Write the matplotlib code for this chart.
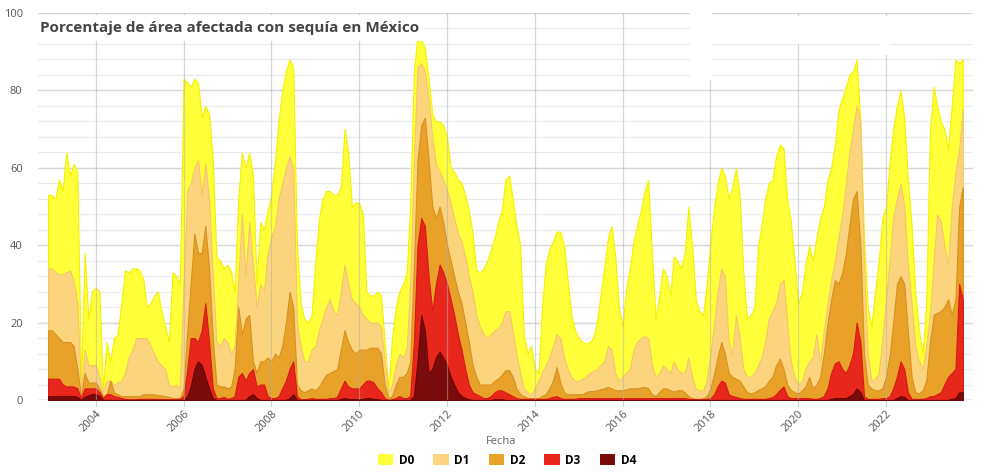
import matplotlib
matplotlib.use("Agg")
import matplotlib.pyplot as plt
from matplotlib.patches import Patch, Rectangle
import pandas as pd

# Monthly series, Dec 2002 .. Oct 2023 (percentage of area)
start_month = "2002-12-01"

d0 = [53,
      53, 52, 57, 54, 64, 58, 61, 59, 5, 38, 21, 28,
      29, 28, 3, 15, 10, 16, 17, 25, 33.5, 33, 34, 34,
      33.5, 31, 24, 25, 27, 28, 23, 19, 15, 33, 32, 30,
      83, 82, 81, 83, 82, 73, 76, 74, 62, 37, 36, 34,
      35, 33, 28, 52, 64, 60, 64, 58, 30, 46, 44, 49,
      53, 62, 72, 80, 85, 88, 86, 40, 25, 21, 20, 22,
      36, 47, 52, 54, 54, 53, 53, 55, 70, 64, 50, 51,
      51, 48, 28, 27, 27, 28, 27, 15, 3, 16, 24, 28,
      30, 33, 50, 85, 94, 93, 91, 83, 74, 72, 72, 71,
      68, 60, 59, 57, 56, 53, 49, 43, 33.5, 33, 34, 36,
      39, 42, 46, 49, 57, 58, 52, 45, 40, 17, 12, 14,
      8, 7, 24, 35, 39, 41, 43.5, 43.5, 40, 31, 22, 18,
      16, 15, 14.6, 15, 16, 20, 27, 34, 42, 45, 37, 24,
      19, 29, 34, 41, 45, 49, 54, 56.8, 38, 21, 27, 34,
      32, 27, 37, 36, 34, 38, 50, 40, 26, 23, 22, 30,
      41, 50, 56, 60, 58, 52, 55, 60, 53, 33, 21, 22,
      24, 40, 45, 52, 56, 57, 63, 66, 65, 52, 46, 36,
      25, 28, 35, 40, 36, 42, 47, 50, 57, 60, 66, 75,
      78, 81, 84, 85, 88, 72, 42, 24, 19, 28, 36, 47,
      50, 62, 70, 76, 80, 73, 57, 45, 28, 18, 12, 25,
      70, 81, 76, 72, 70, 65, 76, 88, 87, 88]

d1 = [34,
      34, 33, 32.5, 32.5, 33, 33.5, 31, 25, 2, 13, 9, 9,
      9, 6, 2, 5, 5, 4, 4.5, 5, 7, 11, 13, 16,
      16, 16, 16, 14, 12, 10, 9, 8, 4, 3.5, 4, 3,
      30, 54, 56, 60, 62, 53, 61, 52, 32, 15, 14, 16,
      15, 12, 14, 30, 48, 32, 46, 35, 24, 30, 28, 38,
      42, 45, 52, 56, 60, 63, 60, 20, 14, 10, 10, 13,
      14, 18, 21, 24, 26, 23, 22, 28, 35, 30, 26, 25,
      24, 22, 21, 20, 20, 20, 19, 10, 2, 4, 9, 12,
      11, 13.5, 30, 62, 86, 87, 85, 78, 68, 61, 59, 57,
      54, 51, 47, 43, 41, 37, 32, 28, 22, 19, 17, 16,
      17, 18, 18.5, 20, 23, 23, 18, 12, 7, 3, 2, 1.5,
      3, 5, 7, 9, 11, 14, 17, 16, 11, 8, 6, 5,
      5, 5.5, 6, 7, 7.5, 8, 9, 10, 14, 13, 7, 5,
      6, 7, 8, 13, 15, 16, 16.5, 16, 9, 6, 7, 9,
      8, 7, 10, 8, 7, 7, 11, 6, 3, 2.5, 2.5, 5,
      12, 20, 28, 34, 32, 15, 12, 22, 16, 8, 6, 6,
      7, 9, 11, 15, 21, 23, 25, 30, 31, 20, 10, 6,
      4, 5, 8, 10, 11, 17, 10, 18, 25, 31, 36, 42,
      48, 56, 64, 70, 76, 72, 35, 12, 5, 5.5, 7, 16,
      26, 37, 47, 52, 56, 50, 35, 25, 14, 10, 8, 14,
      22, 36, 48, 46, 40, 35, 50, 59, 65, 75]

d2 = [18,
      18, 17, 16, 15, 15, 15, 14, 8, 1, 7, 4.5, 4.5,
      4.5, 3, 1, 1.5, 5, 2, 1.5, 1, 1, 1, 1, 1,
      1, 1.5, 1.5, 1.5, 1.5, 1.3, 1.2, 1, 0.8, 0.5, 0.5, 0.5,
      3, 18, 30, 43, 38, 38, 45, 34, 16, 4, 3.5, 3.5,
      3, 3.5, 8, 24, 17, 21, 22, 10, 7, 10, 10, 11,
      10, 12, 11, 14, 20, 28, 24, 4, 2.5, 2, 2.5, 3,
      2.5, 3.5, 5, 6.5, 7, 7.5, 8, 13, 18, 15, 13, 12,
      13, 13, 13, 13.5, 13.5, 13.5, 12, 4, 0.5, 1, 4, 6,
      6, 7, 10, 35, 62, 71, 73, 62, 50, 47, 50, 46,
      40, 36, 32, 28, 25, 20, 15, 9, 6, 4, 4, 4,
      4, 5, 5.5, 6.5, 7.7, 7.7, 6, 3, 1.5, 1, 0.5, 0.5,
      0.5, 0.5, 1, 1.5, 3, 5, 8.5, 4.5, 2, 1.5, 1.5, 1.5,
      1.5, 1.5, 2, 2.3, 2.3, 2.5, 2.8, 3, 3.4, 3, 2.5, 2.5,
      2.5, 2.8, 3, 3, 3, 3.2, 3.4, 3, 1.5, 1, 2, 3,
      3, 2.5, 2.2, 2.5, 2.6, 2, 1, 0.5, 0.3, 0.3, 0.5, 1,
      3, 7, 11, 15, 12, 7, 6, 5.5, 5, 3.5, 2, 1.7,
      2, 2.6, 3, 3.5, 5, 6, 9, 10.7, 8, 4, 2.6, 2,
      1.7, 2.5, 3.5, 6, 3, 4, 6, 12, 20, 26, 31, 30,
      33, 38, 45, 52, 54, 40, 12, 4, 3, 2.5, 2.5, 3,
      6, 12, 20, 30, 32, 30, 18, 6, 2, 1.7, 2.5, 5,
      15, 22, 22.5, 23, 24, 26, 22, 26, 50, 55]

d3 = [5.5,
      5.5, 5.5, 5.5, 4, 3.5, 3.5, 3.5, 3, 0.5, 3, 3, 3,
      3, 2, 0.5, 1.5, 1.5, 1, 0.8, 0.5, 0.3, 0.2, 0.2, 0.2,
      0.3, 0.3, 0.3, 0.3, 0.3, 0.3, 0.2, 0.2, 0.2, 0.2, 0.2, 0.3,
      1, 8, 16, 16, 15, 18, 25, 15, 3, 0.5, 0.5, 0.8,
      0.3, 0.5, 1, 6, 7, 5, 7, 8, 3.5, 4, 4, 1,
      0.5, 0.5, 1, 3, 5, 8, 10, 1, 0.2, 0.2, 0.3, 0.5,
      0.3, 0.3, 0.3, 0.3, 0.5, 0.5, 0.8, 3, 5, 3.5, 3, 3,
      3, 4, 5, 5, 4.5, 3, 2, 0.5, 0, 0.2, 0.5, 1,
      0.5, 0.5, 1, 15, 40, 47, 45, 32, 23, 30, 35, 33,
      30, 26, 22, 17, 13, 8, 4, 2, 1.5, 1, 0.5, 0.5,
      1, 2, 2.5, 2.5, 2, 1.5, 1, 0.5, 0.3, 0.3, 0.3, 0.3,
      0.3, 0.3, 0.3, 0.3, 0.5, 0.8, 1, 0.5, 0.3, 0.3, 0.3, 0.3,
      0.5, 0.5, 0.5, 0.5, 0.5, 0.5, 0.5, 0.5, 0.5, 0.5, 0.5, 0.5,
      0.5, 0.5, 0.5, 0.5, 0.5, 0.5, 0.5, 0.5, 0.5, 0.5, 0.5, 0.5,
      0.5, 0.5, 0.5, 0.5, 0.5, 0.5, 0.3, 0.2, 0.2, 0.2, 0.2, 0.3,
      0.5, 1.5, 3.5, 5, 4.5, 1.5, 1, 0.8, 0.5, 0.3, 0.3, 0.3,
      0.3, 0.3, 0.3, 0.3, 0.5, 0.8, 1.5, 2.6, 3.5, 1, 0.5, 0.5,
      0.5, 0.5, 0.5, 0.5, 0.3, 0.3, 0.5, 1, 3, 7, 9.5, 10,
      8, 7, 9, 12, 20, 15, 1, 0.3, 0.3, 0.3, 0.3, 0.5,
      0.5, 1, 3, 6, 10, 8, 2, 0.3, 0.3, 0.3, 0.3, 0.5,
      1, 1, 1.5, 2, 4, 6, 7, 8, 30, 26]

d4 = [1,
      1, 1, 1, 1, 1, 1, 1, 0.8, 0, 0.8, 1.2, 1.5,
      1.5, 1, 0, 0, 0, 0, 0, 0, 0, 0, 0, 0,
      0, 0, 0, 0, 0, 0, 0, 0, 0, 0, 0, 0,
      0, 1, 3.5, 8, 10, 9, 6, 3, 0.5, 0, 0, 0,
      0, 0, 0, 0, 0, 0, 1, 1.5, 0.5, 0, 0, 0,
      0, 0, 0, 0, 0, 0.5, 1.5, 0, 0, 0, 0, 0,
      0, 0, 0, 0, 0, 0, 0, 0.3, 0.5, 0.3, 0.2, 0.2,
      0.2, 0.3, 0.5, 0.5, 0.3, 0.2, 0, 0, 0, 0, 0, 0,
      0, 0, 0, 1, 10, 22, 18, 7, 8, 11, 12.5, 11,
      9, 6, 4, 2, 1, 0.5, 0.2, 0, 0, 0, 0, 0,
      0, 0.2, 0.2, 0.2, 0, 0, 0, 0, 0, 0, 0, 0,
      0, 0, 0, 0, 0, 0, 0, 0, 0, 0, 0, 0,
      0, 0, 0, 0, 0, 0, 0, 0, 0, 0, 0, 0,
      0, 0, 0, 0, 0, 0, 0, 0, 0, 0, 0, 0,
      0, 0, 0, 0, 0, 0, 0, 0, 0, 0, 0, 0,
      0, 0, 0, 0, 0, 0, 0, 0, 0, 0, 0, 0,
      0, 0, 0, 0, 0, 0, 0, 0, 0, 0, 0, 0,
      0, 0, 0, 0, 0, 0, 0, 0, 0, 0.3, 0.5, 0.5,
      0.5, 0.5, 1, 1.5, 3, 2, 0, 0, 0, 0, 0, 0,
      0, 0, 0, 0.5, 1, 0.8, 0, 0, 0, 0, 0, 0,
      0, 0, 0, 0, 0, 0, 0.3, 0.5, 2, 2]

labels = ["D0", "D1", "D2", "D3", "D4"]
colors = ["#FFFF3A", "#FDD47E", "#E8A22A", "#E8271C", "#7B0A0A"]
edge_colors = ["#F2F200", "#F5C66A", "#D8911C", "#D81A12", "#6A0505"]
series = [d0, d1, d2, d3, d4]
tick_years = list(range(2004, 2023, 2))

dates = pd.date_range(start_month, periods=len(d0), freq="MS")

plt.rcParams["font.family"] = ["Open Sans", "DejaVu Sans"]

W, H = 981, 476
fig = plt.figure(figsize=(W / 100, H / 100), dpi=100)
ax = fig.add_axes([38 / W, 1 - 400 / H, (973 - 38) / W, (400 - 13) / H])

for vals, c, ec, lab in zip(series, colors, edge_colors, labels):
    ax.fill_between(dates, 0, vals, color=c, lw=0.8, edgecolor=ec, zorder=2, label=lab)

ax.set_ylim(0, 100)
ax.set_xlim(pd.Timestamp("2002-09-08"), pd.Timestamp("2023-12-25"))

year_ticks = pd.to_datetime([f"{y}-01-01" for y in tick_years])
ax.set_xticks(year_ticks)
ax.set_xticklabels([str(y) for y in tick_years], rotation=45,
                   ha="right", rotation_mode="anchor", fontsize=8, color="#555555")
ax.set_yticks(range(0, 101, 20))
ax.set_yticklabels([str(v) for v in range(0, 101, 20)], fontsize=8, color="#555555")
ax.set_yticks(range(0, 101, 4), minor=True)
ax.tick_params(axis="y", which="both", length=0, pad=11)
ax.tick_params(axis="x", length=4, color="#cccccc", pad=2)

ax.grid(axis="y", which="minor", color="#ebebeb", lw=0.9, zorder=0)
ax.grid(axis="y", which="major", color="#d6d6d6", lw=1.0, zorder=0)
ax.set_axisbelow(True)
# vertical year lines drawn over the areas, as in the reference
for t in year_ticks:
    ax.axvline(t, color="#b0b0b0", lw=0.9, alpha=0.5, zorder=3)
for s in ax.spines.values():
    s.set_visible(False)
ax.axhline(0, color="#cfcfcf", lw=1.0, zorder=1)

# title with white background box
ax.text(0.002, 0.962, "Porcentaje de área afectada con sequía en México",
        transform=ax.transAxes, fontsize=11, fontweight="bold", color="#444444",
        va="center", ha="left", zorder=5,
        bbox=dict(facecolor="white", edgecolor="none", pad=4.4))

# white patches at the top right (as in the reference picture)
def white_box(x0, y0, x1, y1):
    fig.patches.append(Rectangle((x0 / W, 1 - y1 / H), (x1 - x0) / W, (y1 - y0) / H,
                                 transform=fig.transFigure, facecolor="white",
                                 edgecolor="none", zorder=10))

white_box(690, 0, 712, 80)
white_box(712, 16, 981, 44)
white_box(880, 44, 890, 55)

fig.text(501 / W, 1 - 442 / H, "Fecha", ha="center", va="center",
         fontsize=8, color="#666666")

handles = [Patch(facecolor=c, edgecolor="none") for c in colors]
fig.legend(handles, labels, loc="center", bbox_to_anchor=(507 / W, 1 - 460 / H),
           ncol=5, frameon=False, handlelength=1.3, handleheight=1.0,
           handletextpad=0.5, columnspacing=1.6,
           prop={"weight": "bold", "size": 8.5})

fig.savefig("out.png", dpi=100, facecolor="white")
